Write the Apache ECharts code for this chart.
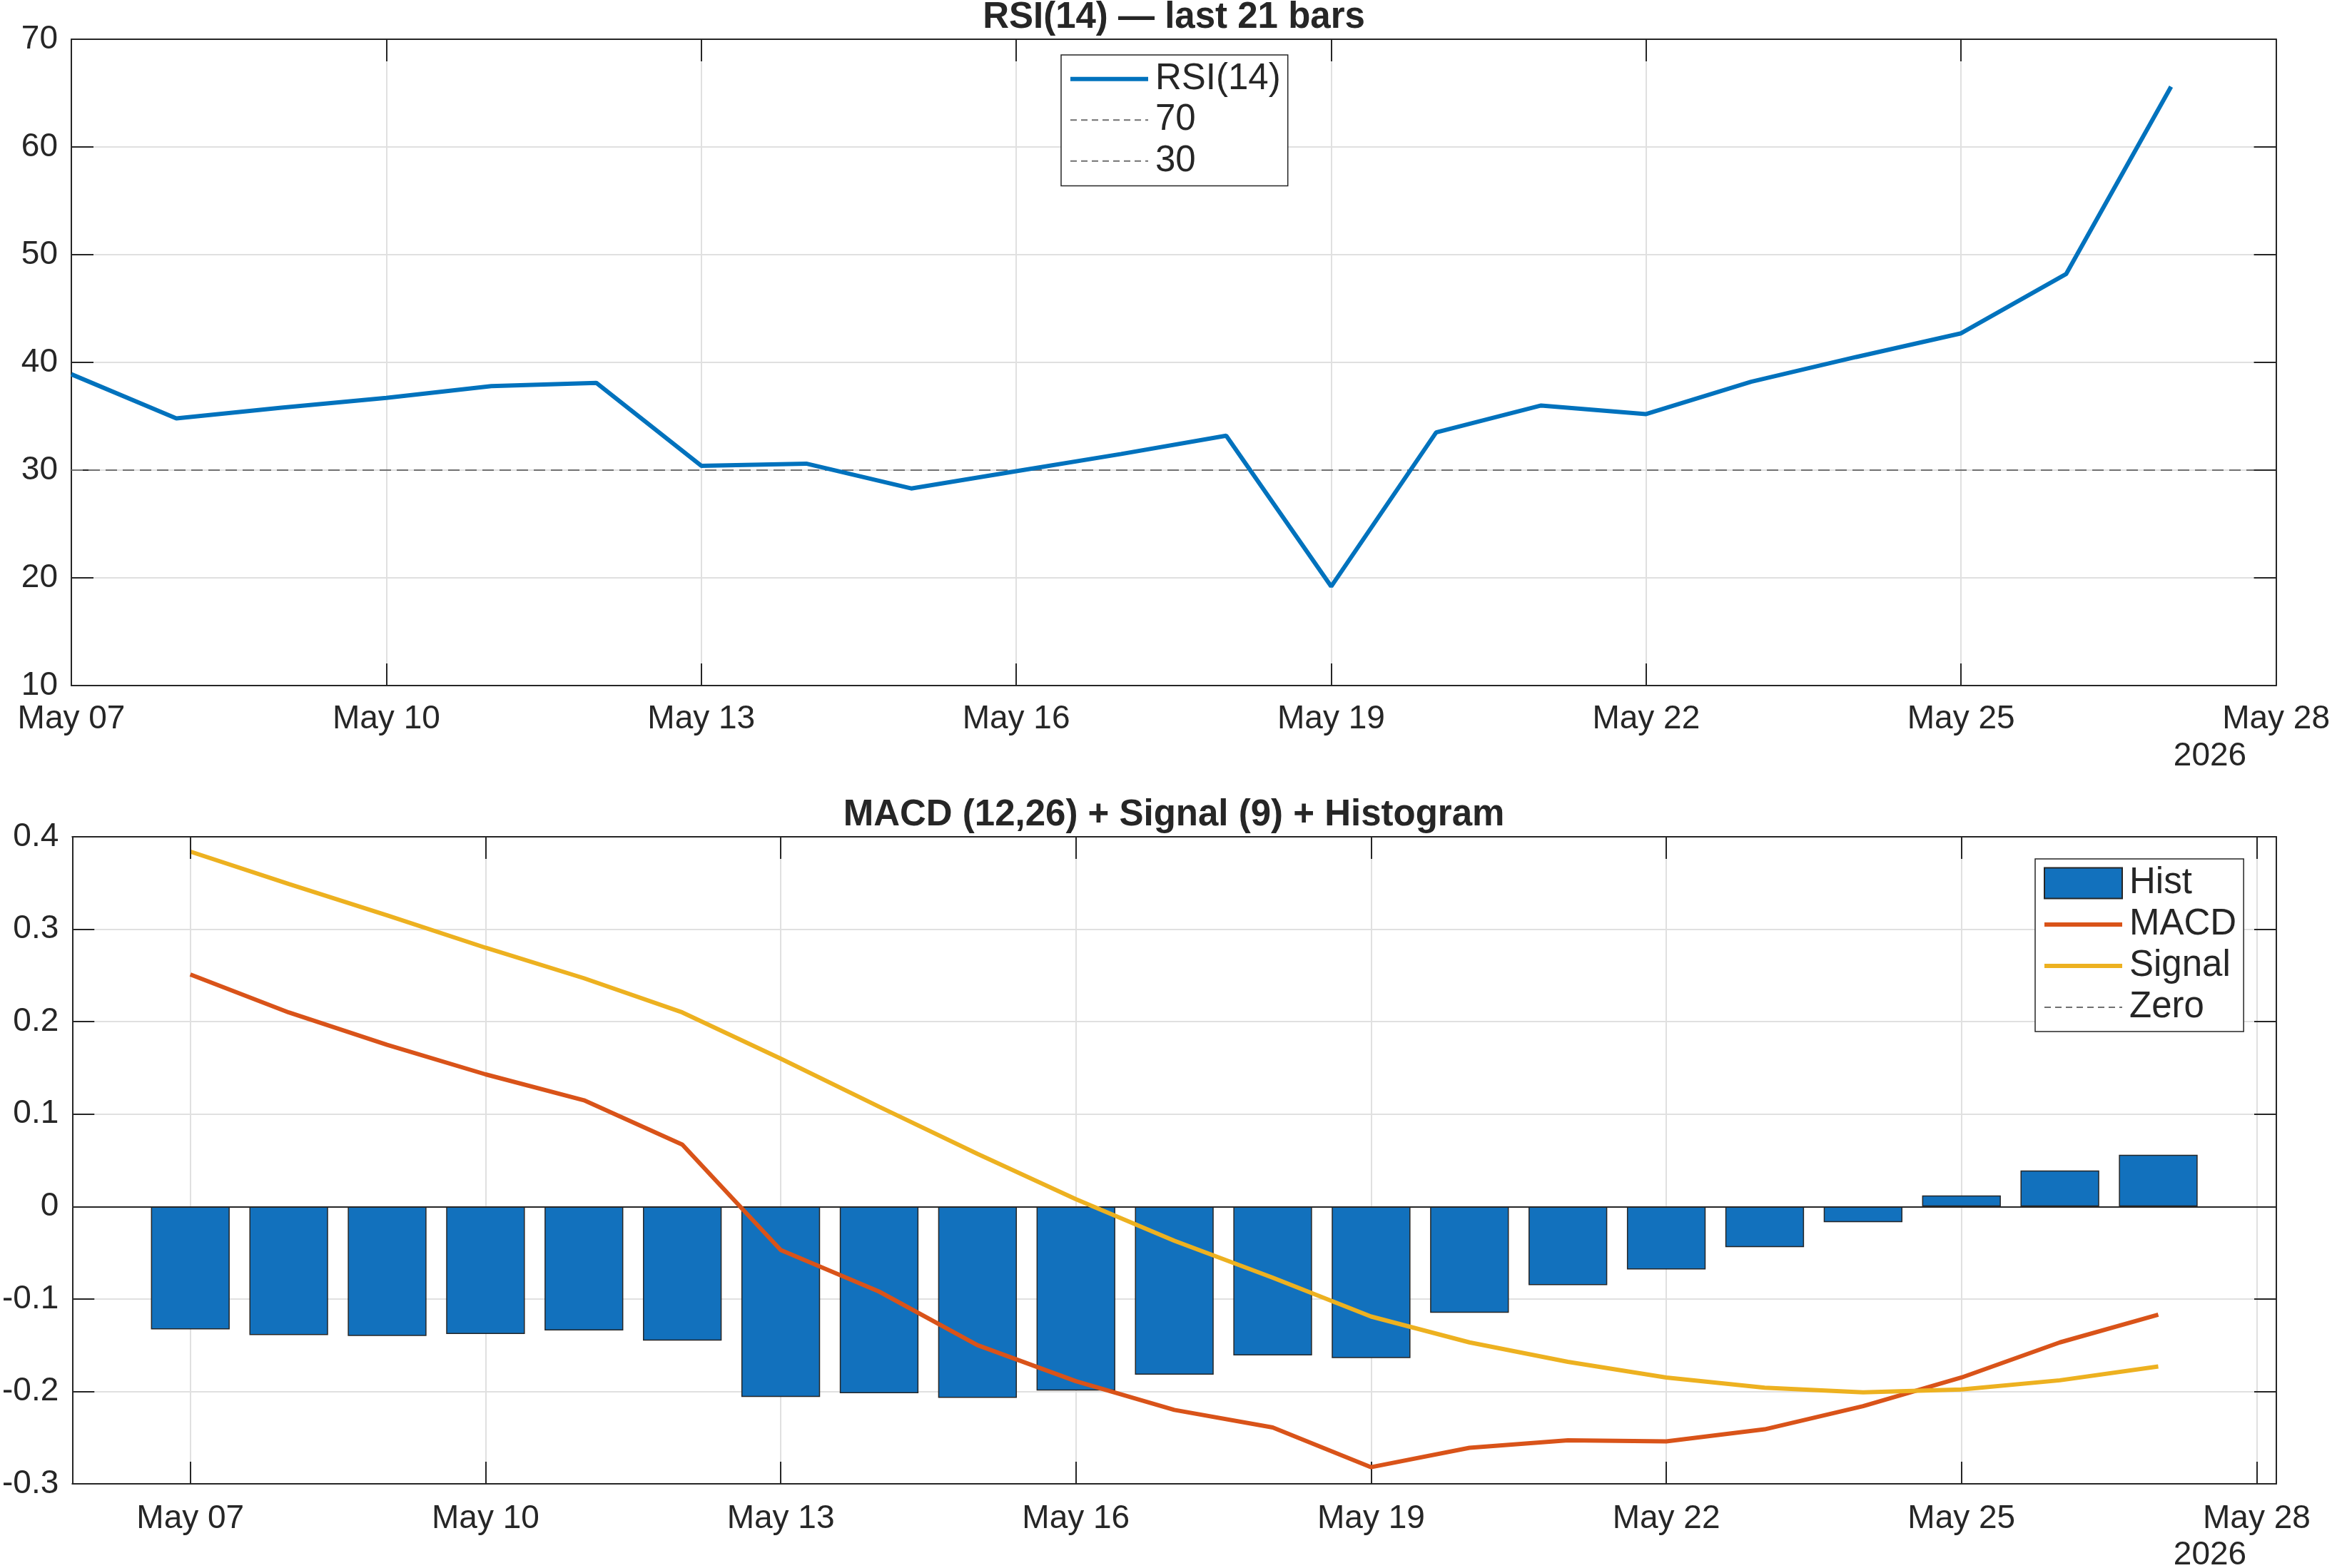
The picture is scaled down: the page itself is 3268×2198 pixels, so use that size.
<!DOCTYPE html>
<html>
<head>
<meta charset="utf-8">
<title>RSI / MACD</title>
<script src="https://cdn.jsdelivr.net/npm/echarts@6/dist/echarts.min.js"></script>
<style>
  html, body { margin: 0; padding: 0; background: #fff; }
  #chart { width: 3268px; height: 2198px; }
</style>
</head>
<body>
<div id="chart"></div>
<script>
// day index 0 = May 07 2026, one bar per day
const barDays = [0, 1, 2, 3, 4, 5, 6, 7, 8, 9, 10, 11, 12, 13, 14, 15, 16, 17, 18, 19, 20];
const tickDays = [0, 3, 6, 9, 12, 15, 18, 21];
const tickLabels = ['May 07', 'May 10', 'May 13', 'May 16', 'May 19', 'May 22', 'May 25', 'May 28'];

const rsi = [38.9, 34.8, 35.8, 36.7, 37.8, 38.1, 30.4, 30.6, 28.3, 29.9, 31.5,
             33.2, 19.2, 33.5, 36.0, 35.2, 38.2, 40.5, 42.7, 48.2, 65.6];
const rsiLevels = [70, 30];

const macd = [0.251, 0.210, 0.175, 0.143, 0.115, 0.067, -0.047, -0.092, -0.150, -0.189, -0.220,
              -0.239, -0.282, -0.261, -0.253, -0.254, -0.241, -0.216, -0.185, -0.147, -0.117];
const signal = [0.384, 0.349, 0.315, 0.280, 0.247, 0.210, 0.160, 0.108, 0.057, 0.008, -0.037,
                -0.077, -0.119, -0.147, -0.168, -0.185, -0.196, -0.201, -0.198, -0.188, -0.173];
const hist = [-0.133, -0.139, -0.140, -0.138, -0.134, -0.145, -0.206, -0.202, -0.207, -0.199, -0.182,
              -0.161, -0.164, -0.115, -0.085, -0.068, -0.044, -0.017, 0.012, 0.039, 0.056];

const font = '"Liberation Sans", Arial, Helvetica, sans-serif';
const ink = '#262626';
const gridCol = '#e0e0e0';
const dashCol = '#707070';
const blue = '#0072BD', orange = '#D95319', yellow = '#EDB120';

const pairs = arr => barDays.map((d, i) => [d, arr[i]]);
const dayLabel = v => {
  const k = tickDays.indexOf(Math.round(v));
  return k >= 0 ? tickLabels[k] : '';
};

const axisLine = { show: true, onZero: false, lineStyle: { color: ink, width: 2 } };
const innerTick = { show: true, inside: true, length: 31, lineStyle: { color: ink, width: 2 } };
const splitLine = { show: true, lineStyle: { color: gridCol, width: 2 } };
const tickFont = { fontSize: 46, fontFamily: font, color: ink };

// legend entries: hide the symbol drawn in the middle of line icons
const noDot = { opacity: 0 };
const solidKey = (name, color) => ({ name, itemStyle: noDot, lineStyle: { width: 6, color, type: 'solid' } });
const dashKey = name => ({ name, itemStyle: noDot, lineStyle: { width: 2, color: dashCol, type: [9, 6] } });

const chart = echarts.init(document.getElementById('chart'), null, { renderer: 'canvas' });

const option = {
  animation: false,
  backgroundColor: '#fff',
  title: [
    {
      text: 'RSI(14) \u2014 last 21 bars',
      left: 1645, top: -1, textAlign: 'center', padding: 0,
      textStyle: { fontSize: 51, fontWeight: 'bold', fontFamily: font, color: ink }
    },
    {
      text: 'MACD (12,26) + Signal (9) + Histogram',
      left: 1645, top: 1117, textAlign: 'center', padding: 0,
      textStyle: { fontSize: 51, fontWeight: 'bold', fontFamily: font, color: ink }
    }
  ],
  grid: [
    { left: 100, top: 55, width: 3090, height: 906 },
    { left: 100, top: 1173, width: 3090, height: 907 }
  ],
  xAxis: [
    {
      type: 'value', gridIndex: 0, position: 'bottom', min: 0, max: 21, interval: 3,
      axisLine: axisLine, axisTick: innerTick, splitLine: splitLine,
      axisLabel: Object.assign({ margin: 24, formatter: dayLabel }, tickFont)
    },
    {
      type: 'value', gridIndex: 0, position: 'top', min: 0, max: 21, interval: 3, z: 10,
      axisLine: axisLine, axisTick: innerTick, splitLine: { show: false }, axisLabel: { show: false }
    },
    {
      type: 'value', gridIndex: 1, position: 'bottom', min: -1.2, max: 21.2,
      axisLine: axisLine,
      axisTick: Object.assign({ customValues: tickDays }, innerTick),
      splitLine: splitLine,
      axisLabel: Object.assign({ margin: 26, formatter: dayLabel, customValues: tickDays }, tickFont)
    },
    {
      type: 'value', gridIndex: 1, position: 'top', min: -1.2, max: 21.2, z: 10,
      axisLine: axisLine,
      axisTick: Object.assign({ customValues: tickDays }, innerTick),
      splitLine: { show: false },
      axisLabel: { show: false, customValues: tickDays }
    }
  ],
  yAxis: [
    {
      type: 'value', gridIndex: 0, position: 'left', min: 10, max: 70, interval: 10,
      axisLine: axisLine, axisTick: innerTick, splitLine: splitLine,
      axisLabel: Object.assign({ margin: 19 }, tickFont)
    },
    {
      type: 'value', gridIndex: 0, position: 'right', min: 10, max: 70, interval: 10, z: 10,
      axisLine: axisLine, axisTick: innerTick, splitLine: { show: false }, axisLabel: { show: false }
    },
    {
      type: 'value', gridIndex: 1, position: 'left', min: -0.3, max: 0.4, interval: 0.1,
      axisLine: axisLine, axisTick: innerTick, splitLine: splitLine,
      axisLabel: Object.assign({
        margin: 19,
        formatter: v => (Math.abs(v) < 1e-9 ? '0' : String(+v.toFixed(1)))
      }, tickFont)
    },
    {
      type: 'value', gridIndex: 1, position: 'right', min: -0.3, max: 0.4, interval: 0.1, z: 10,
      axisLine: axisLine, axisTick: innerTick, splitLine: { show: false }, axisLabel: { show: false }
    }
  ],
  legend: [
    {
      orient: 'vertical', left: 1487, top: 77,
      data: [
        solidKey('RSI(14)', blue),
        dashKey(String(rsiLevels[0])),
        dashKey(String(rsiLevels[1]))
      ],
      itemWidth: 109, itemHeight: 20, itemGap: 0,
      padding: [5, 10, 6, 10],
      borderColor: ink, borderWidth: 1.5, backgroundColor: '#fff',
      selectedMode: false,
      textStyle: { fontSize: 51, fontFamily: font, color: ink, lineHeight: 57.5, padding: [0, 0, 0, 5] }
    },
    {
      orient: 'vertical', left: 2852, top: 1204,
      data: [
        { name: 'Hist', icon: 'rect' },
        solidKey('MACD', orange),
        solidKey('Signal', yellow),
        dashKey('Zero')
      ],
      itemWidth: 109, itemHeight: 43, itemGap: 0,
      padding: [5, 10, 5, 10],
      borderColor: ink, borderWidth: 1.5, backgroundColor: '#fff',
      selectedMode: false,
      textStyle: { fontSize: 51, fontFamily: font, color: ink, lineHeight: 58, padding: [0, 0, 0, 5] }
    }
  ],
  graphic: [
    { type: 'text', x: 3097, y: 1060, z: 20,
      style: { text: '2026', font: '46px ' + font, fill: ink, align: 'center', verticalAlign: 'middle' } },
    { type: 'text', x: 3097, y: 2180, z: 20,
      style: { text: '2026', font: '46px ' + font, fill: ink, align: 'center', verticalAlign: 'middle' } }
  ],
  series: [
    {
      name: 'RSI(14)', type: 'line', xAxisIndex: 0, yAxisIndex: 0, z: 6,
      data: pairs(rsi), showSymbol: false, symbol: 'none',
      lineStyle: { color: blue, width: 6 }, itemStyle: { color: blue }
    },
    {
      name: String(rsiLevels[0]), type: 'line', xAxisIndex: 0, yAxisIndex: 0, z: 3,
      data: [], symbol: 'none',
      lineStyle: { color: dashCol, width: 2, type: [16, 8] }, itemStyle: { color: dashCol },
      markLine: {
        silent: true, symbol: 'none', label: { show: false }, z: 3,
        lineStyle: { color: dashCol, width: 2, type: [16, 8] },
        data: [{ yAxis: rsiLevels[0] }]
      }
    },
    {
      name: String(rsiLevels[1]), type: 'line', xAxisIndex: 0, yAxisIndex: 0, z: 3,
      data: [], symbol: 'none',
      lineStyle: { color: dashCol, width: 2, type: [16, 8] }, itemStyle: { color: dashCol },
      markLine: {
        silent: true, symbol: 'none', label: { show: false }, z: 3,
        lineStyle: { color: dashCol, width: 2, type: [16, 8] },
        data: [{ yAxis: rsiLevels[1] }]
      }
    },
    {
      name: 'Hist', type: 'bar', xAxisIndex: 2, yAxisIndex: 2, z: 2,
      data: pairs(hist), barWidth: '80%',
      itemStyle: { color: '#1271BD', borderColor: ink, borderWidth: 1.5 },
      markLine: {
        silent: true, symbol: 'none', label: { show: false }, z: 5,
        lineStyle: { color: ink, width: 2, type: 'solid' },
        data: [{ yAxis: 0 }]
      }
    },
    {
      name: 'MACD', type: 'line', xAxisIndex: 2, yAxisIndex: 2, z: 6,
      data: pairs(macd), showSymbol: false, symbol: 'none',
      lineStyle: { color: orange, width: 6 }, itemStyle: { color: orange }
    },
    {
      name: 'Signal', type: 'line', xAxisIndex: 2, yAxisIndex: 2, z: 6,
      data: pairs(signal), showSymbol: false, symbol: 'none',
      lineStyle: { color: yellow, width: 6 }, itemStyle: { color: yellow }
    },
    {
      name: 'Zero', type: 'line', xAxisIndex: 2, yAxisIndex: 2, z: 1,
      data: [], symbol: 'none',
      lineStyle: { color: dashCol, width: 2, type: [16, 8] }, itemStyle: { color: dashCol },
      markLine: {
        silent: true, symbol: 'none', label: { show: false }, z: 1,
        lineStyle: { color: dashCol, width: 2, type: [16, 8] },
        data: [{ yAxis: 0 }]
      }
    }
  ]
};

chart.setOption(option);
</script>
</body>
</html>
